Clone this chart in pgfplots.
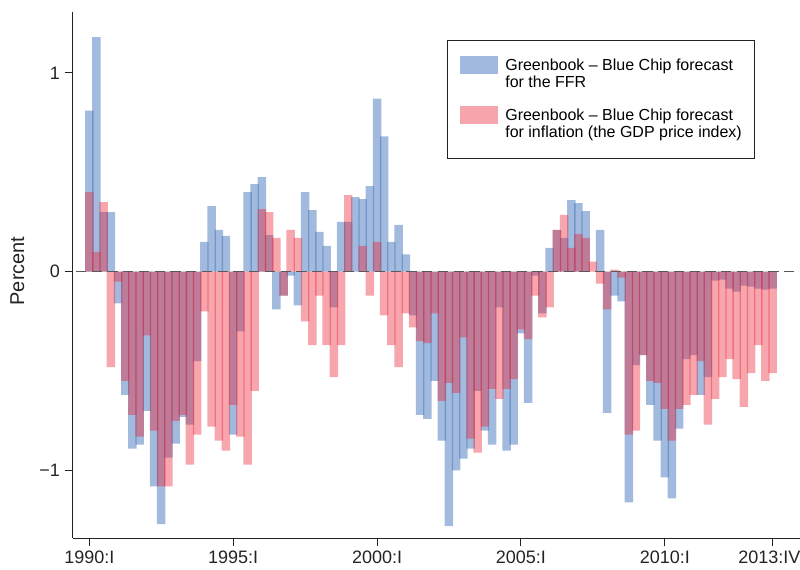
\documentclass[border=0pt]{standalone}
\usepackage{fontspec}
\setmainfont{Liberation Sans}
\usepackage{pgfplots}
\usepackage{pgfplotstable}
\pgfplotsset{compat=1.18}
\definecolor{ffrblue}{RGB}{67,117,189}
\definecolor{infred}{RGB}{235,32,50}
\definecolor{axgray}{RGB}{35,35,35}
\pgfplotstableread{
q ffr inf
0 0.81 0.40
1 1.18 0.10
2 0.30 0.35
3 0.30 -0.48
4 -0.16 -0.05
5 -0.62 -0.55
6 -0.89 -0.72
7 -0.87 -0.83
8 -0.70 -0.32
9 -1.08 -0.80
10 -1.27 -1.08
11 -0.935 -1.08
12 -0.865 -0.75
13 -0.73 -0.72
14 -0.77 -0.97
15 -0.45 -0.82
16 0.15 -0.20
17 0.33 -0.78
18 0.21 -0.85
19 0.18 -0.90
20 -0.82 -0.67
21 -0.30 -0.83
22 0.40 -0.97
23 0.44 -0.60
24 0.476 0.315
25 0.184 0.30
26 -0.19 0.17
27 -0.12 -0.12
28 -0.02 0.21
29 -0.17 0.17
30 0.40 -0.25
31 0.31 -0.37
32 0.20 -0.12
33 0.13 -0.37
34 -0.18 -0.53
35 0.25 -0.37
36 0.25 0.385
37 0.375 0.0
38 0.365 0.13
39 0.43 -0.12
40 0.87 0.15
41 0.68 -0.22
42 0.15 -0.37
43 0.235 -0.48
44 0.087 -0.21
45 -0.22 -0.28
46 -0.72 -0.35
47 -0.74 -0.36
48 -0.55 -0.21
49 -0.85 -0.65
50 -1.28 -0.56
51 -1.0 -0.61
52 -0.94 -0.33
53 -0.89 -0.84
54 -0.60 -0.91
55 -0.80 -0.78
56 -0.87 -0.59
57 -0.18 -0.64
58 -0.90 -0.59
59 -0.87 -0.54
60 -0.31 -0.29
61 -0.66 -0.34
62 -0.02 -0.12
63 -0.21 -0.23
64 0.12 -0.18
65 0.21 0.21
66 0.17 0.285
67 0.36 0.12
68 0.345 0.19
69 0.305 0.17
70 0.0 0.05
71 0.21 -0.06
72 -0.71 -0.19
73 -0.12 0.01
74 -0.15 -0.03
75 -1.16 -0.82
76 -0.47 -0.80
77 -0.42 -0.42
78 -0.67 -0.55
79 -0.85 -0.56
80 -1.035 -0.69
81 -1.14 -0.85
82 -0.79 -0.69
83 -0.44 -0.67
84 -0.42 -0.62
85 -0.62 -0.45
86 -0.53 -0.77
87 -0.045 -0.64
88 -0.04 -0.53
89 -0.085 -0.44
90 -0.10 -0.54
91 -0.07 -0.68
92 -0.075 -0.51
93 -0.085 -0.37
94 -0.09 -0.55
95 -0.085 -0.51
}\gapdata
\pgfplotsset{
  evenq/.style={x filter/.code={\ifodd\coordindex\def\pgfmathresult{}\fi}},
  oddq/.style={x filter/.code={\ifodd\coordindex\else\def\pgfmathresult{}\fi}},
  ffrbar/.style={ybar, bar shift=0pt, bar width=1.18, draw=none, fill=ffrblue, fill opacity=0.5},
  infbar/.style={ybar, bar shift=0pt, bar width=1.18, draw=none, fill=infred, fill opacity=0.4},
}
\begin{document}
\begin{tikzpicture}
\useasboundingbox (-54.5pt,-23.8pt) rectangle (545.5pt,403.7pt);
\begin{axis}[
  at={(0pt,0pt)}, anchor=south west,
  scale only axis, width=545.5pt, height=394.7pt,
  xmin=-2.31, xmax=98.8, ymin=-1.341, ymax=1.306,
  axis x line*=bottom, axis y line*=left,
  axis line style={-, axgray, line width=0.75pt},
  tick align=outside, major tick length=6pt,
  tick style={axgray, line width=0.75pt},
  xtick={0,20,40,60,80,95},
  xticklabels={1990:I,1995:I,2000:I,2005:I,2010:I,\hspace*{-5pt}2013:IV},
  ytick={-1,0,1},
  yticklabels={−1,0,1},
  tick label style={font=\fontsize{13.5}{15}\selectfont, text=axgray},
  ylabel={Percent},
  every axis y label/.style={at={(axis description cs:-0.0759,0.508)}, rotate=90, anchor=center, font=\fontsize{15}{17}\selectfont, text=axgray},
  legend style={at={(axis description cs:0.5142,0.9468)}, anchor=north west,
    draw=axgray, line width=0.75pt, fill=white,
    font=\fontsize{12}{13.3}\selectfont,
    inner xsep=9.6pt, inner ysep=11.3pt, row sep=0pt, column sep=5.5pt,
    nodes={inner sep=0pt}},
  legend cell align=left,
  legend image code/.code={\fill[#1] (0pt,-5.16pt) rectangle (28.5pt,8.34pt);},
]
\addplot[ffrbar, evenq] table[x=q, y=ffr] {\gapdata};
\addlegendentry[text height=9.3pt, text depth=4pt]{Greenbook – Blue Chip forecast}
\addlegendimage{empty legend}
\addlegendentry[text height=9.3pt, text depth=4pt]{for the FFR}
\addlegendimage{empty legend}
\addlegendentry[text height=9.2pt, text depth=0pt]{}
\addplot[ffrbar, oddq, forget plot] table[x=q, y=ffr] {\gapdata};
\addplot[infbar, evenq] table[x=q, y=inf] {\gapdata};
\addlegendentry[text height=9.3pt, text depth=4pt]{Greenbook – Blue Chip forecast}
\addlegendimage{empty legend}
\addlegendentry[text height=9.3pt, text depth=4pt]{for inflation (the GDP price index)}
\addplot[infbar, oddq, forget plot] table[x=q, y=inf] {\gapdata};
\addplot[forget plot, draw=black!65, line width=1pt, dash pattern=on 7.7pt off 4.1pt, dash phase=-2.5pt] coordinates {(-2.31,0) (98.8,0)};
\end{axis}
\end{tikzpicture}
\end{document}
